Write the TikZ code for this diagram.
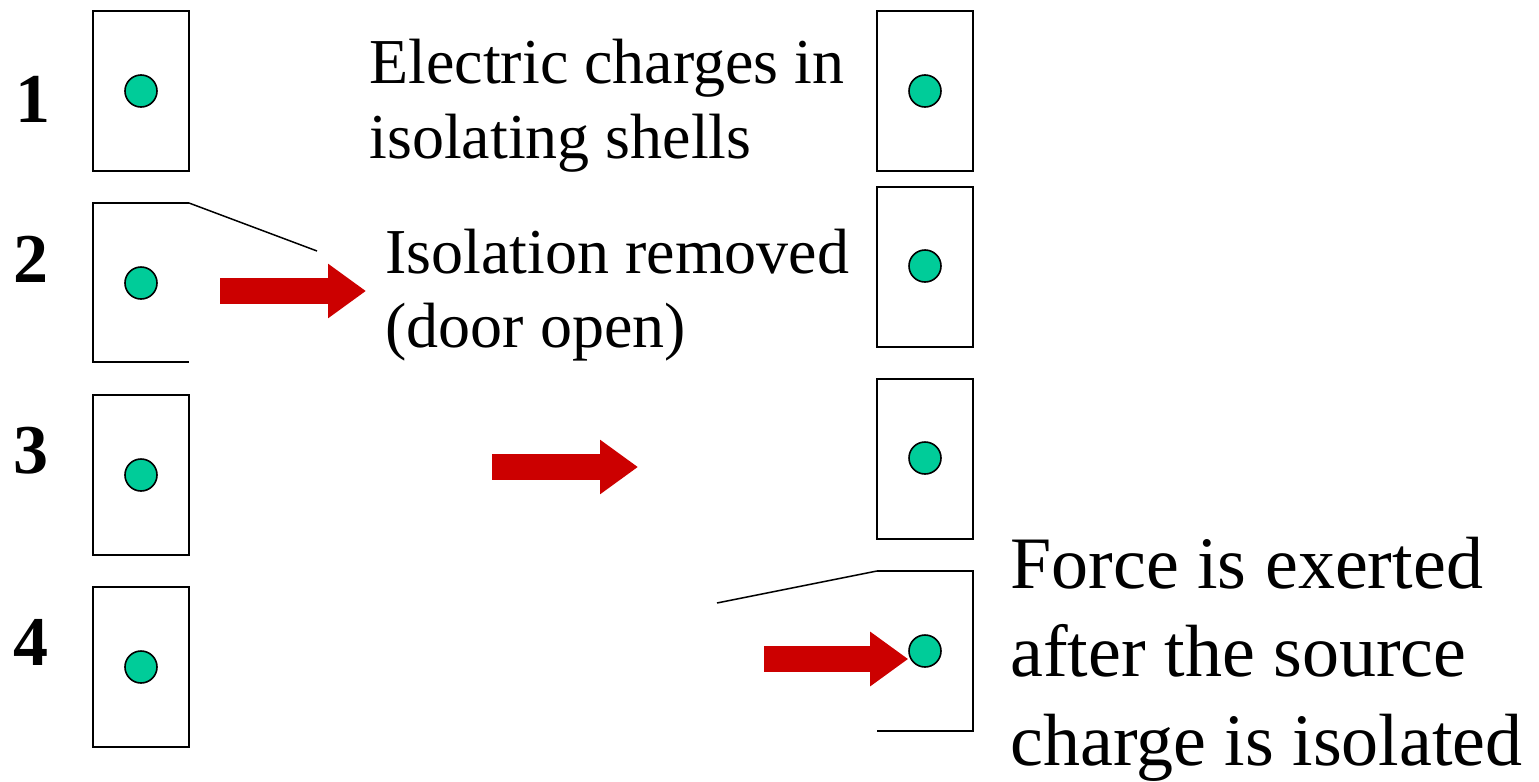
\documentclass[tikz,border=0pt]{standalone}
\usepackage{fontspec}
\setmainfont{Liberation Serif}
\usepackage{tikz}
\usetikzlibrary{arrows.meta,positioning,calc}
\definecolor{chargeteal}{HTML}{00CC99}
\definecolor{pushred}{HTML}{CC0000}

\begin{document}
\begin{tikzpicture}[x=0.5pt,y=-0.5pt,
    shell/.style={line width=1pt,line join=miter},
    lid/.style={line width=0.75pt},
    charge/.style={circle,draw=black,line width=0.8pt,fill=chargeteal,
                   minimum size=16pt,inner sep=0pt},
    push/.style={draw=pushred,line width=13pt,
                 -{Triangle[length=19pt,width=26pt]}},
    rownum/.style={anchor=base west,inner sep=0pt,
                   font=\fontsize{35}{40}\selectfont\bfseries},
    caption/.style={anchor=base west,inner sep=0pt,align=left}]
  \useasboundingbox (0,0) rectangle (1539,782);
  % closed shells
  \foreach \x/\y in {93/11,93/395,93/587,877/11,877/187,877/379}
    \draw[shell] (\x,\y) rectangle ++(96,160);
  % shell 2, door open
  \draw[shell] (189,203) -- (93,203) -- (93,362) -- (189,362);
  \draw[lid] (189,203) -- (317,251);
  % shell 4, source isolated again
  \draw[shell] (877,571) -- (973,571) -- (973,731) -- (877,731);
  \draw[lid] (877,571) -- (717,603);
  % charges
  \node[charge] (l1) at (141,91) {};
  \node[charge] (l2) at (141,283) {};
  \node[charge] (l3) at (141,475) {};
  \node[charge] (l4) at (141,667) {};
  \node[charge] (r1) at (925,91) {};
  \node[charge] (r2) at (925,266) {};
  \node[charge] (r3) at (925,458) {};
  \node[charge] (r4) at (925,651) {};
  % row numbers
  \node[rownum] (n1) at (15,122) {1};
  \node[rownum] (n2) at (13,282) {2};
  \node[rownum] (n3) at (13,473) {3};
  \node[rownum] (n4) at (13,665) {4};
  % texts, placed at the baseline of their last line
  \node[caption,font=\fontsize{32}{37.5}\selectfont] (shells) at (369,158)
    {Electric charges in\\isolating shells};
  \node[caption,font=\fontsize{32}{37}\selectfont] (door) at (385,347)
    {Isolation removed\\(door open)};
  \node[caption,font=\fontsize{37}{44.25}\selectfont] (force) at (1010,765)
    {Force is exerted\\after the source\\charge is isolated};
  % arrows
  \coordinate (a2) at (220,291);
  \coordinate (b2) at (366,291);
  \coordinate (a3) at (492,467);
  \coordinate (b3) at (638,467);
  \coordinate (a4) at (764,659);
  \draw[push] (a2) -- (b2);
  \draw[push] (a3) -- (b3);
  \draw[push] (a4) -- (a4 -| r4.west);
\end{tikzpicture}
\end{document}
